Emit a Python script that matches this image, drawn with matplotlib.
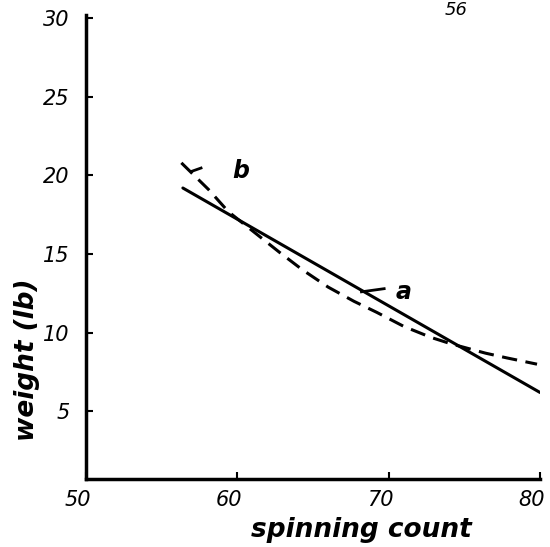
import matplotlib
matplotlib.use("Agg")
import matplotlib.pyplot as plt
import matplotlib.transforms as mtransforms

# data
line_a_x = [56.4, 80.0]
line_a_y = [19.2, 6.2]

line_b_x = [56.3, 58.1, 59.4, 62.8, 64.3, 66.0, 67.7, 69.2, 71.0, 72.8, 74.1, 76.4, 77.8, 79.8]
line_b_y = [20.8, 19.1, 17.7, 15.1, 14.0, 12.9, 12.0, 11.3, 10.4, 9.7, 9.3, 8.7, 8.4, 8.0]

x_ticks = [50, 60, 70, 80]
y_ticks = [5, 10, 15, 20, 25, 30]

fig = plt.figure(figsize=(5.5, 5.47), dpi=100)
ax = fig.add_axes([0.1564, 0.1243, 0.8255, 0.8483])

ax.plot(line_a_x, line_a_y, color="black", lw=2.2, solid_capstyle="round")
ax.plot(line_b_x, line_b_y, color="black", lw=2.2, linestyle=(0, (5, 2.8)))

# labels a and b with short leader strokes
ax.plot([68.2, 69.7], [12.6, 12.8], color="black", lw=2)
ax.text(71.0, 12.6, "a", fontsize=17, fontweight="bold", style="italic",
        ha="center", va="center")
ax.plot([57.04, 57.6], [20.28, 20.47], color="black", lw=2)
ax.text(60.2, 20.3, "b", fontsize=17, fontweight="bold", style="italic",
        ha="center", va="center")

ax.set_xlim(50, 80)
ax.set_ylim(0.7, 30.2)
ax.set_xticks(x_ticks)
ax.set_yticks(y_ticks)
ax.set_xticklabels([str(v) for v in x_ticks], fontsize=15, style="italic")
ax.set_yticklabels([str(v) for v in y_ticks], fontsize=15, style="italic")
ax.tick_params(axis="both", direction="in", length=5, width=1.5)
ax.tick_params(axis="x", pad=8)
ax.tick_params(axis="y", pad=12)

shift = mtransforms.ScaledTranslation(-8 / 100, 0, fig.dpi_scale_trans)
for lab in ax.get_xticklabels():
    lab.set_transform(lab.get_transform() + shift)

for s in ["top", "right"]:
    ax.spines[s].set_visible(False)
for s in ["left", "bottom"]:
    ax.spines[s].set_linewidth(2.5)

fig.text(361 / 550, 1 - 530 / 547, "spinning count", fontsize=19,
         fontweight="heavy", style="italic", ha="center", va="center")
fig.text(27 / 550, 1 - 360 / 547, "weight (lb)", fontsize=19,
         fontweight="heavy", style="italic", ha="center", va="center",
         rotation=90)
fig.text(456 / 550, 1 - 1 / 547, "56", fontsize=13, style="italic",
         ha="center", va="top")

fig.savefig("out.png", dpi=100)
